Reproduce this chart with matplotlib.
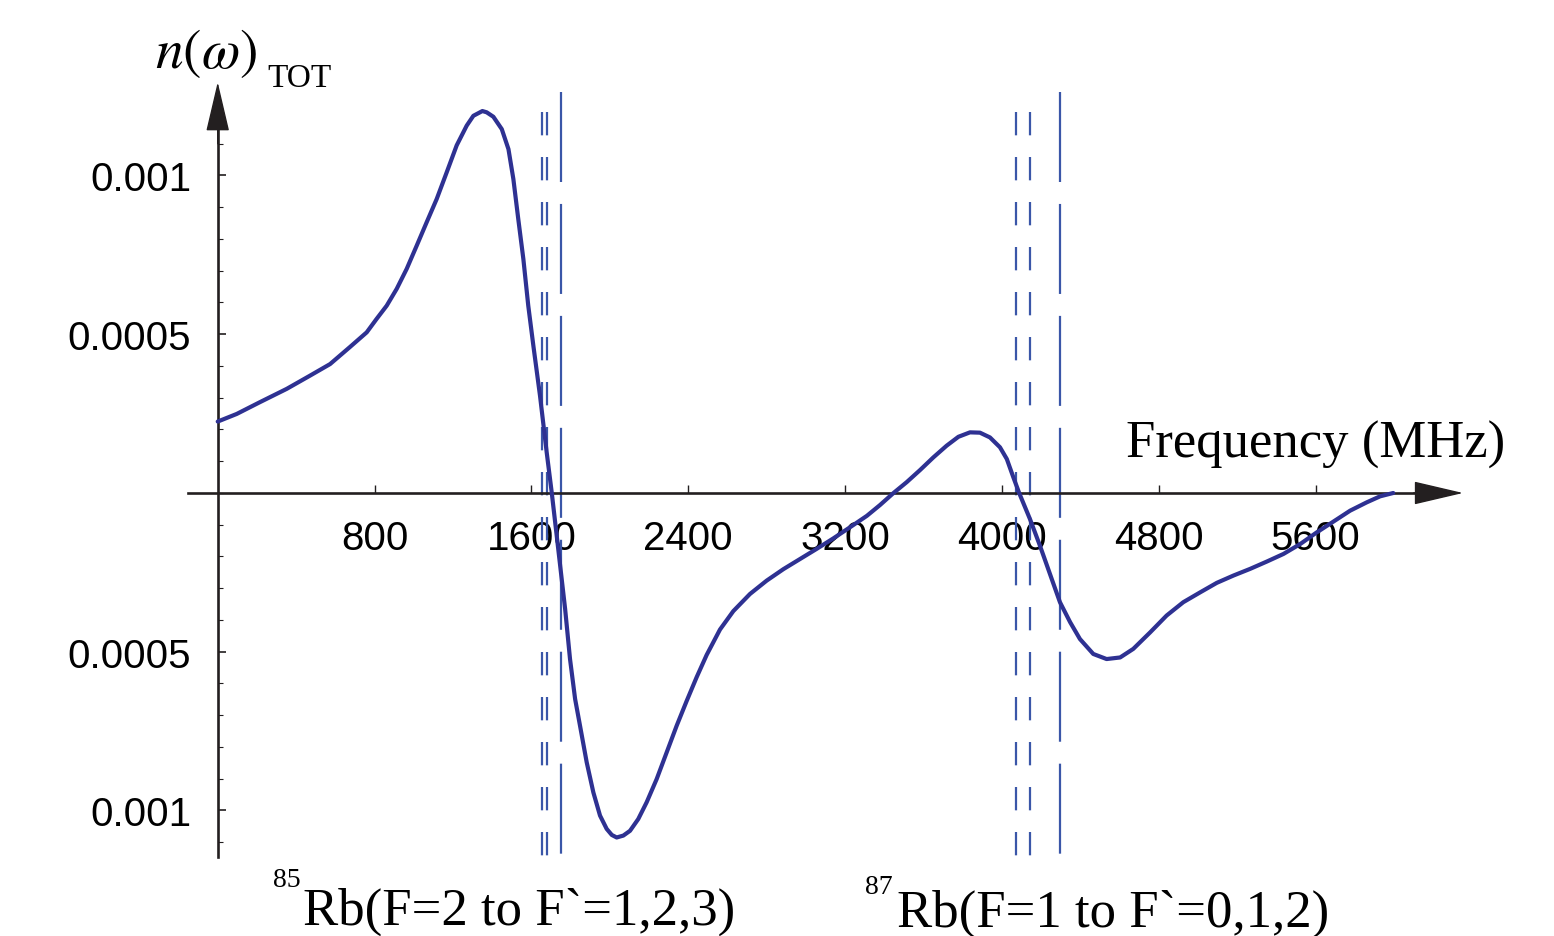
import numpy as np
import matplotlib.pyplot as plt

plt.rcParams['mathtext.fontset'] = 'stix'
plt.rcParams['lines.scale_dashes'] = False

# total refractive index n(w) across the Rb D2 manifold
freq = [0, 97, 215, 352, 469, 573, 673, 760, 810, 862, 913, 964, 1015, 1066,
        1117, 1168, 1219, 1270, 1304, 1350, 1372, 1406, 1449, 1483, 1508, 1533,
        1559, 1584, 1610, 1644, 1678, 1704, 1746, 1772, 1797, 1823, 1848, 1882,
        1916, 1950, 1984, 2010, 2035, 2069, 2103, 2145, 2188, 2239, 2290, 2341,
        2392, 2443, 2494, 2562, 2630, 2715, 2800, 2885, 2970, 3055, 3140, 3225,
        3311, 3378, 3447, 3514, 3582, 3650, 3718, 3778, 3837, 3888, 3939, 3990,
        4025, 4058, 4088, 4143, 4194, 4245, 4296, 4348, 4398, 4466, 4534, 4603,
        4670, 4756, 4840, 4925, 5011, 5096, 5181, 5266, 5351, 5436, 5521, 5606,
        5691, 5776, 5861, 5929, 5996]
n_tot = [0.000225, 0.000249, 0.000286, 0.000328, 0.000369, 0.000406, 0.000459,
         0.000506, 0.000548, 0.00059, 0.000643, 0.000706, 0.000779, 0.000853,
         0.000926, 0.00101, 0.001095, 0.001157, 0.001188, 0.001203, 0.001199,
         0.001185, 0.001146, 0.001083, 0.000989, 0.000863, 0.000737, 0.00059,
         0.000464, 0.000306, 0.000128, 0.0, -0.000225, -0.000365, -0.000523,
         -0.000649, -0.000733, -0.000848, -0.000943, -0.001016, -0.001058,
         -0.001077, -0.001085, -0.001079, -0.001064, -0.001027, -0.000974,
         -0.000901, -0.000817, -0.000733, -0.000655, -0.00058, -0.00051,
         -0.00043, -0.000372, -0.000318, -0.000276, -0.00024, -0.000208,
         -0.000176, -0.000143, -0.000108, -0.000072, -0.000038, 0.0, 0.000034,
         0.000072, 0.000112, 0.000149, 0.000177, 0.000191, 0.00019, 0.000175,
         0.000144, 0.000107, 0.00005, 0.0, -0.000082, -0.000166, -0.000255,
         -0.000344, -0.000407, -0.00046, -0.000507, -0.000523, -0.000518,
         -0.000491, -0.000439, -0.000386, -0.000344, -0.000313, -0.000283,
         -0.00026, -0.000239, -0.000216, -0.000192, -0.000161, -0.000124,
         -0.00009, -0.0000557, -0.0000294, -0.0000105, 0.0]

# hyperfine transition markers (MHz)
rb85_lines = [1656, 1681, 1751]
rb87_lines = [4071, 4142, 4298]
line_kind = ['short', 'short', 'long']

xticks = [800, 1600, 2400, 3200, 4000, 4800, 5600]
yticks = [-0.001, -0.0005, 0.0005, 0.001]
ytick_labels = ['0.001', '0.0005', '0.0005', '0.001']

curve_color = '#2E3192'
marker_color = '#3A56A8'
axis_color = '#231F20'

fig = plt.figure(figsize=(15.54, 9.37), dpi=100)
ax = fig.add_axes([0, 0, 1, 1])
ax.set_xlim(-1110.5, 6816)
ax.set_ylim(-0.0013953, 0.0015559)

# axes through the origin
for side in ['top', 'right']:
    ax.spines[side].set_visible(False)
ax.spines['left'].set_position(('data', 0))
ax.spines['bottom'].set_position(('data', 0))
ax.spines['left'].set_bounds(-0.001146, 0.00116)
ax.spines['bottom'].set_bounds(-151, 6140)
for side in ['left', 'bottom']:
    ax.spines[side].set_linewidth(1.9)
    ax.spines[side].set_color(axis_color)

arrow_kw = dict(arrowstyle='-|>,head_length=3.2,head_width=0.75',
                mutation_scale=10, fc=axis_color, ec=axis_color, lw=1,
                shrinkA=0, shrinkB=0)
ax.annotate('', xy=(6352, 0), xytext=(6100, 0), arrowprops=arrow_kw)
ax.annotate('', xy=(0, 0.001294), xytext=(0, 0.00110), arrowprops=arrow_kw)

ax.set_xticks(xticks)
ax.set_xticklabels([str(t) for t in xticks])
ax.set_yticks(yticks)
ax.set_yticklabels(ytick_labels)
ax.set_yticks(np.arange(-0.0011, 0.00115, 0.0001), minor=True)
ax.tick_params(axis='x', direction='in', length=6, width=1, pad=19,
               labelsize=29, color=axis_color)
ax.tick_params(axis='y', which='major', direction='in', length=6, width=1.2,
               pad=19, labelsize=29, color=axis_color)
ax.tick_params(axis='y', which='minor', direction='in', length=3.5, width=0.8,
               color=axis_color)
for lab in ax.get_xticklabels() + ax.get_yticklabels():
    lab.set_family('Liberation Sans')

# dashed transition markers
for xs in [rb85_lines, rb87_lines]:
    for x, kind in zip(xs, line_kind):
        if kind == 'short':
            ln, = ax.plot([x, x], [0.00120, -0.001146], color=marker_color, lw=1.6)
            ln.set_dashes((16.8, 15.6))
        else:
            ln, = ax.plot([x, x], [0.001263, -0.001146], color=marker_color, lw=1.6)
            ln.set_dashes((64.8, 15.8))

ax.plot(freq, n_tot, color=curve_color, lw=3, solid_capstyle='round',
        solid_joinstyle='round', zorder=5)

# labels
ax.text(-320, 0.001342, r'$n(\omega)$', fontsize=40, ha='left', va='baseline')
ax.text(254, 0.001282, 'TOT', fontsize=24, family='Liberation Serif',
        ha='left', va='baseline')
ax.text(6566, 0.0001134, 'Frequency (MHz)', fontsize=38,
        family='Liberation Serif', ha='right', va='baseline')

ax.text(433, -0.0013575, 'Rb(F=2 to F`=1,2,3)', fontsize=38,
        family='Liberation Serif', ha='left', va='baseline')
ax.text(424, -0.001238, '85', fontsize=20,
        family='Liberation Serif', ha='right', va='baseline')
ax.text(3463, -0.0013638, 'Rb(F=1 to F`=0,1,2)', fontsize=38,
        family='Liberation Serif', ha='left', va='baseline')
ax.text(3440, -0.001260, '87', fontsize=20,
        family='Liberation Serif', ha='right', va='baseline')

fig.savefig('out.png', dpi=100)
